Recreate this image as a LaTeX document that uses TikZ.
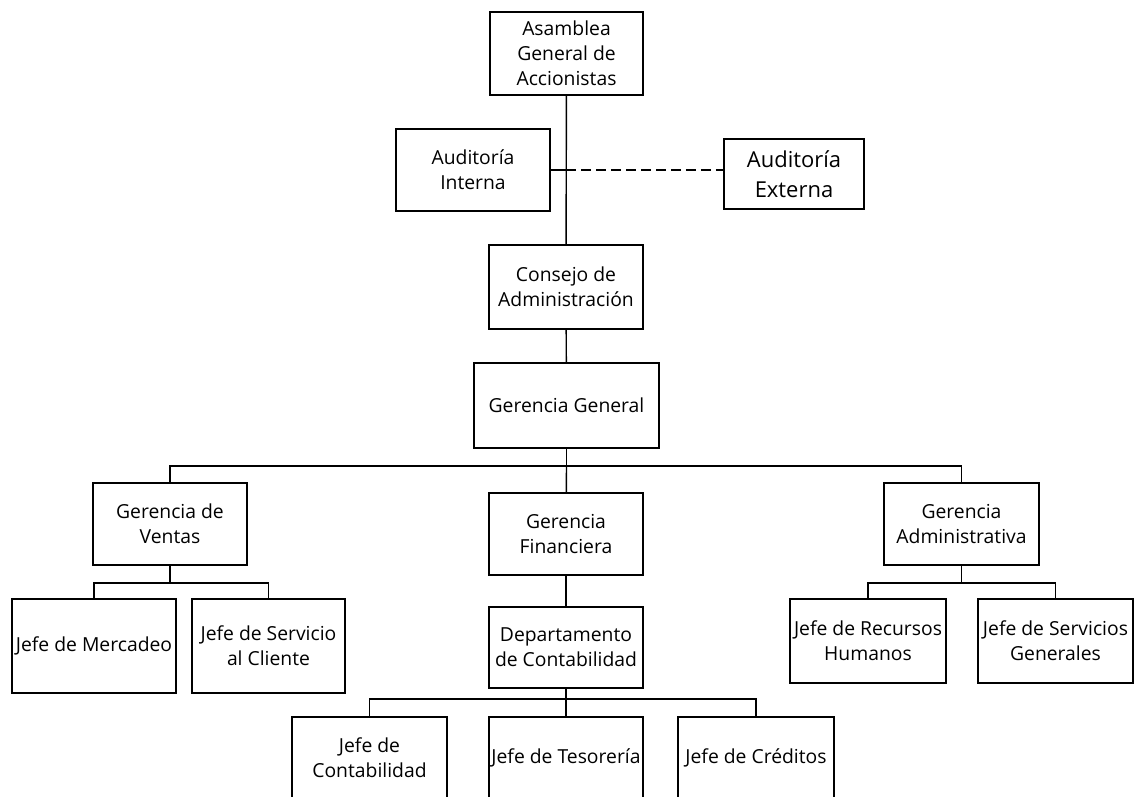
\documentclass[tikz,border=0pt]{standalone}
\usepackage{fontspec}
\setmainfont{Open Sans}
\usepackage{tikz}

\begin{document}
\begin{tikzpicture}[x=0.02cm, y=-0.02cm,
  every node/.style={font=\fontsize{11}{14.2}\selectfont},
  box/.style={rectangle, draw, line width=0.8pt, align=center, inner sep=0pt,
              minimum width=3.08cm, minimum height=1.64cm},
  link/.style={line width=0.8pt},
  ext/.style={link, dash pattern=on 5.5pt off 3pt}
]
  \useasboundingbox (0,0) rectangle (1137,796);
  \clip (0,0) rectangle (1137,796);

  % top of the chart
  \node[box, minimum width=3.06cm, minimum height=1.66cm] (asam)
    at (566.5, 53.5) {Asamblea\\ General de\\ Accionistas};
  \node[box] (audi) at (473, 170) {Auditoría\\ Interna};
  \node[box, minimum width=2.8cm, minimum height=1.4cm,
        font=\fontsize{12.5}{17}\selectfont] (aude)
    at (794, 174) {Auditoría\\ Externa};
  \node[box, minimum height=1.68cm] (cons)
    at (566, 287) {Consejo de\\ Administración};
  \node[box, minimum width=3.7cm, minimum height=1.7cm] (gg)
    at (566.5, 405.5) {Gerencia General};

  % gerencias
  \node[box] (gv) at (170, 524) {Gerencia de\\ Ventas};
  \node[box] (gf) at (566, 534) {Gerencia\\ Financiera};
  \node[box, minimum width=3.1cm] (ga) at (961.5, 524) {Gerencia\\ Administrativa};

  % jefes
  \node[box, minimum width=3.28cm, minimum height=1.88cm] (jm)
    at (94, 646) {Jefe de Mercadeo};
  \node[box, minimum width=3.06cm, minimum height=1.88cm] (jsc)
    at (268.5, 646) {Jefe de Servicio\\ al Cliente};
  \node[box, minimum height=1.62cm] (dc)
    at (566, 647.5) {Departamento\\ de Contabilidad};
  \node[box, minimum width=3.12cm, minimum height=1.68cm] (jrh)
    at (868, 641) {Jefe de Recursos\\ Humanos};
  \node[box, minimum width=3.1cm, minimum height=1.68cm] (jsg)
    at (1055.5, 641) {Jefe de Servicios\\ Generales};

  \node[box, minimum width=3.1cm] (jc) at (369.5, 758) {Jefe de\\ Contabilidad};
  \node[box] (jt) at (566, 758) {Jefe de Tesorería};
  \node[box, minimum width=3.12cm] (jcr) at (756, 758) {Jefe de Créditos};

  % connectors
  \coordinate (aud) at (asam.south |- audi.east);
  \coordinate (b1) at (566.5, 466);
  \coordinate (b2) at (170, 583);
  \coordinate (b3) at (961.5, 583);
  \coordinate (b4) at (566, 699);

  \draw[link] (asam) -- (cons);
  \draw[link] (audi) -- (aud);
  \draw[ext] (aud) -- (aud -| aude.west);
  \draw[link] (cons) -- (gg);
  \draw[link] (gg) -- (b1);
  \draw[link] (b1) -| (gv.north);
  \draw[link] (b1) -| (ga.north);
  \draw[link] (b1) -- (gf);
  \draw[link] (gv) -- (b2);
  \draw[link] (b2) -| (jm.north);
  \draw[link] (b2) -| (jsc.north);
  \draw[link] (ga) -- (b3);
  \draw[link] (b3) -| (jrh.north);
  \draw[link] (b3) -| (jsg.north);
  \draw[link] (gf) -- (dc);
  \draw[link] (dc) -- (b4);
  \draw[link] (b4) -| (jc.north);
  \draw[link] (b4) -| (jcr.north);
  \draw[link] (b4) -- (jt);
\end{tikzpicture}
\end{document}
